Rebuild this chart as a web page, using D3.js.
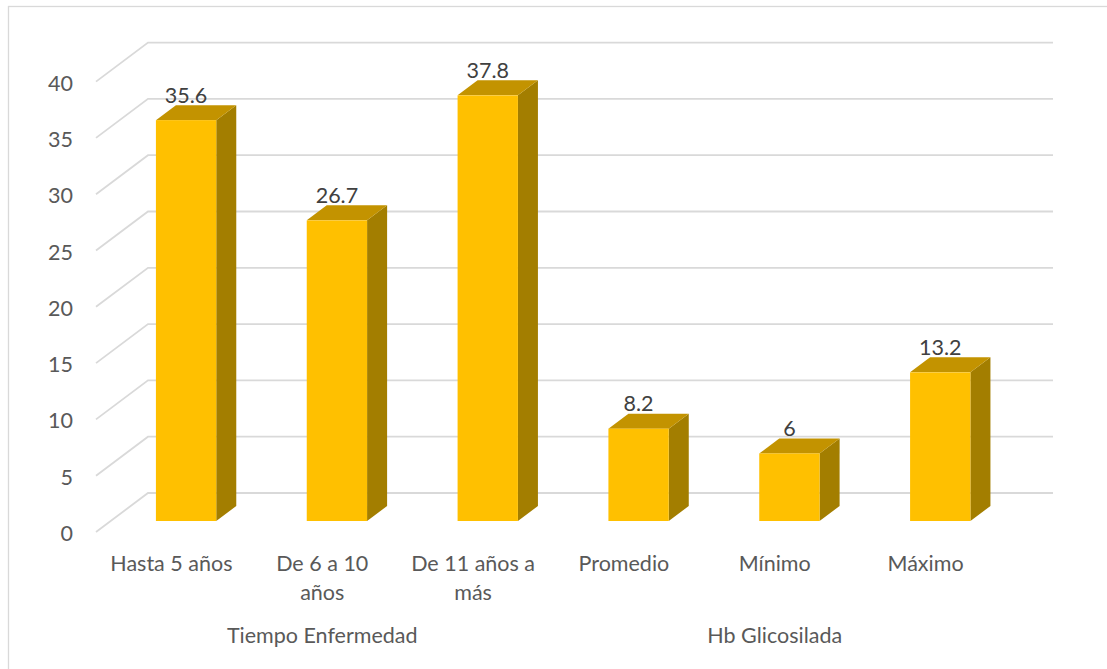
<!DOCTYPE html>
<html>
<head>
<meta charset="utf-8">
<script src="https://cdn.jsdelivr.net/npm/d3@7"></script>
<style>
  html, body { margin: 0; padding: 0; background: #fff; }
  svg { display: block; }
  text { font-family: Lato, "Open Sans", sans-serif; }
</style>
</head>
<body>
<svg id="chart" width="1107" height="669"></svg>
<script>
// ---- data ----
const categories = ["Hasta 5 años", "De 6 a 10 años", "De 11 años a más", "Promedio", "Mínimo", "Máximo"];
const values = [35.6, 26.7, 37.8, 8.2, 6, 13.2];
const valueLabels = ["35.6", "26.7", "37.8", "8.2", "6", "13.2"];
const groups = ["Tiempo Enfermedad", "Hb Glicosilada"];
const groupSizes = [3, 3];
const yTicks = [0, 5, 10, 15, 20, 25, 30, 35, 40];

// ---- layout ----
const FS = 21.5;
const depthDX = 52, depthDY = -39;       // floor depth (front -> back wall)
const barZ0 = 0.282, barZ1 = 0.667;      // bar depth position within floor
const svg = d3.select("#chart");

const x = d3.scaleBand().domain(categories).range([96, 1001]);
const y = d3.scaleLinear().domain([0, 40]).range([532, 81.6]);

const P = (sx, v, z) => [sx + z * depthDX, y(v) + z * depthDY];

// chart border
svg.append("rect")
  .attr("x", 8.5).attr("y", 6.5).attr("width", 1120).attr("height", 680)
  .attr("fill", "none").attr("stroke", "#d9d9d9").attr("stroke-width", 1.3);

// gridlines: side wall diagonal + back wall
const grid = svg.append("g").attr("stroke", "#d9d9d9").attr("stroke-width", 1.8).attr("fill", "none");
yTicks.forEach(t => {
  const [ax, ay] = P(x.range()[0], t, 0);
  const [bx, by] = P(x.range()[0], t, 1);
  const [cx, cy] = P(x.range()[1], t, 1);
  grid.append("path").attr("d", `M${ax},${ay}L${bx},${by}L${cx},${cy}`);
});

// y tick labels
svg.append("g").selectAll("text").data(yTicks).join("text")
  .attr("x", 73).attr("y", d => y(d) + 9)
  .attr("text-anchor", "end")
  .attr("font-size", FS).attr("fill", "#595959")
  .text(d => d);

// bars
const bw = x.step() * 0.4;
const bdx = (barZ1 - barZ0) * depthDX, bdy = (barZ1 - barZ0) * depthDY;
const bars = svg.append("g");
categories.forEach((c, i) => {
  const v = values[i];
  const cx = x(c) + x.bandwidth() / 2 + barZ0 * depthDX;
  const x0 = cx - bw / 2, x1 = cx + bw / 2;
  const yTop = y(v) + barZ0 * depthDY, yBot = y(0) + barZ0 * depthDY;
  bars.append("path")
    .attr("d", `M${x1},${yTop}L${x1 + bdx},${yTop + bdy}L${x1 + bdx},${yBot + bdy}L${x1},${yBot}Z`)
    .attr("fill", "#a37e00");
  bars.append("path")
    .attr("d", `M${x0},${yTop}L${x0 + bdx},${yTop + bdy}L${x1 + bdx},${yTop + bdy}L${x1},${yTop}Z`)
    .attr("fill", "#c39300");
  bars.append("rect")
    .attr("x", x0).attr("y", yTop).attr("width", bw).attr("height", yBot - yTop)
    .attr("fill", "#ffc000");
  svg.append("text")
    .attr("x", cx).attr("y", yTop + bdy - 2.5)
    .attr("text-anchor", "middle")
    .attr("font-size", FS).attr("fill", "#404040")
    .text(valueLabels[i]);
});

// category labels with wrapping
const catG = svg.append("g");
categories.forEach(c => {
  const cx = x(c) + x.bandwidth() / 2;
  const t = catG.append("text")
    .attr("x", cx).attr("y", 571)
    .attr("text-anchor", "middle")
    .attr("font-size", FS).attr("fill", "#595959");
  const words = c.split(" ");
  let line = [];
  let ts = t.append("tspan").attr("x", cx).attr("dy", 0);
  words.forEach(w => {
    line.push(w);
    ts.text(line.join(" "));
    if (ts.node().getComputedTextLength() > 130 && line.length > 1) {
      line.pop();
      ts.text(line.join(" "));
      line = [w];
      ts = t.append("tspan").attr("x", cx).attr("dy", 29).text(w);
    }
  });
});

// group labels
let start = 0;
groups.forEach((g, gi) => {
  const cats = categories.slice(start, start + groupSizes[gi]);
  const a = x(cats[0]) + x.bandwidth() / 2;
  const b = x(cats[cats.length - 1]) + x.bandwidth() / 2;
  svg.append("text")
    .attr("x", (a + b) / 2).attr("y", 643)
    .attr("text-anchor", "middle")
    .attr("font-size", FS).attr("fill", "#595959")
    .text(g);
  start += groupSizes[gi];
});
</script>
</body>
</html>
